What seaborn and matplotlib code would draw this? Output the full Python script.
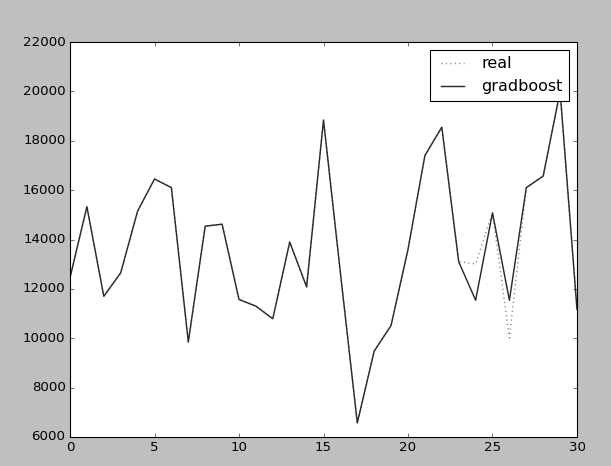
import numpy as np
import pandas as pd
import seaborn as sns
import matplotlib
matplotlib.use('Agg')
import matplotlib.pyplot as plt

# values
idx = list(range(31))
real = [12450, 15330, 11700, 12650, 15150, 16450, 16100, 9850, 14540, 14620,
        11570, 11300, 10790, 13900, 12080, 18840, 12650, 6570, 9480, 10520,
        13600, 17400, 18550, 13100, 13010, 15080, 10020, 16100, 16570, 20000,
        11170]
gradboost = [12450, 15330, 11700, 12650, 15150, 16450, 16100, 9850, 14540, 14620,
             11570, 11300, 10790, 13900, 12080, 18840, 12650, 6570, 9480, 10520,
             13600, 17400, 18550, 13100, 11540, 15080, 11540, 16100, 16570, 20000,
             11170]

plt.style.use('classic')
plt.rcParams['figure.facecolor'] = '#bfbfbf'

fig = plt.figure(figsize=(611 / 80, 466 / 80), dpi=80)
ax = fig.add_subplot(111)
fig.subplots_adjust(left=70 / 611, right=577 / 611, top=1 - 42 / 466, bottom=1 - 437 / 466)

df = pd.DataFrame({'idx': idx, 'real': real, 'gradboost': gradboost})
sns.lineplot(x='idx', y='real', data=df, ax=ax, color='#808080', linestyle=':', lw=1.3, label='real')
sns.lineplot(x='idx', y='gradboost', data=df, ax=ax, color='#2b2b2b', lw=1.3, label='gradboost')

ax.set_xlim(0, 30)
ax.set_ylim(6000, 22000)
ax.set_xlabel('')
ax.set_ylabel('')
ax.legend(loc='upper right')

plt.savefig('out.png', dpi=80, facecolor=fig.get_facecolor())
